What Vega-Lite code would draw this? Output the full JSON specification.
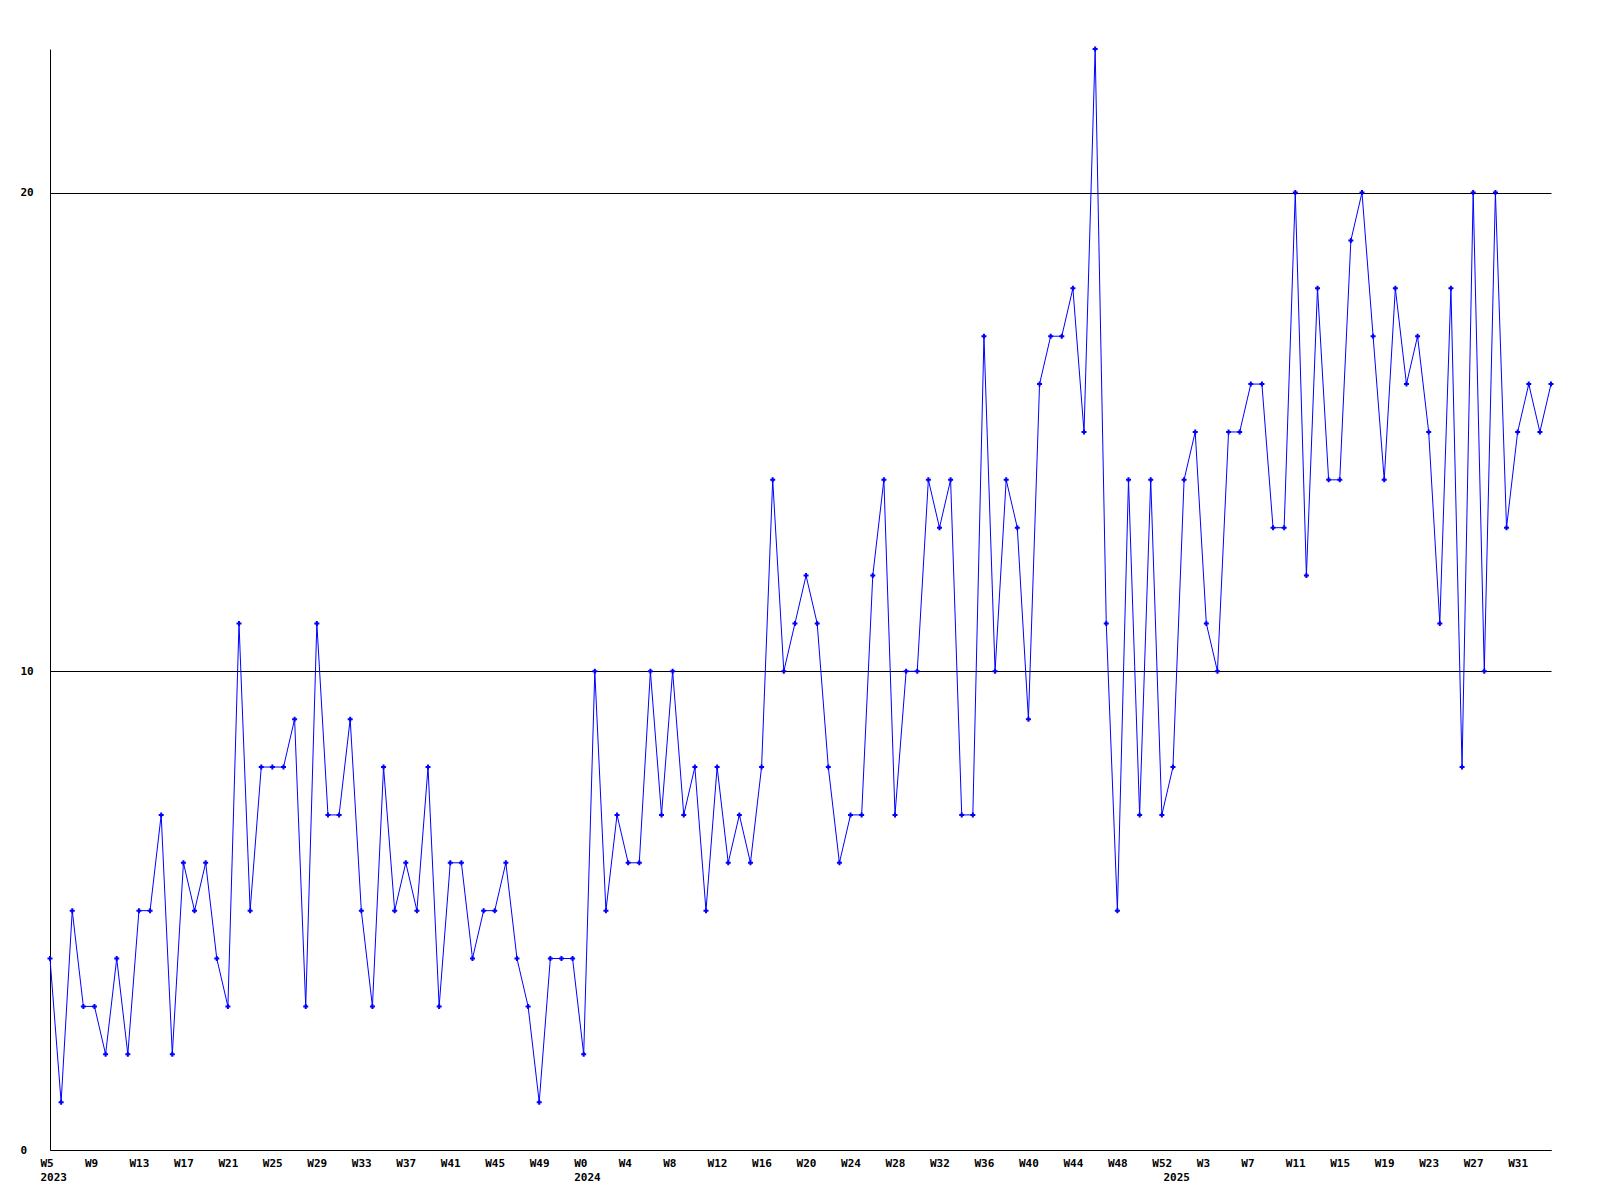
{
  "$schema": "https://vega.github.io/schema/vega-lite/v6.json",
  "width": 1501,
  "height": 1101,
  "autosize": {"type": "none"},
  "padding": {"left": 50, "top": 49, "right": 49, "bottom": 50},
  "background": "white",
  "config": {"view": {"stroke": null}, "font": "DejaVu Sans Mono"},
  "data": {"values": [
    {"i":0,"v":4},{"i":1,"v":1},{"i":2,"v":5},{"i":3,"v":3},{"i":4,"v":3},{"i":5,"v":2},{"i":6,"v":4},{"i":7,"v":2},{"i":8,"v":5},{"i":9,"v":5},
    {"i":10,"v":7},{"i":11,"v":2},{"i":12,"v":6},{"i":13,"v":5},{"i":14,"v":6},{"i":15,"v":4},{"i":16,"v":3},{"i":17,"v":11},{"i":18,"v":5},{"i":19,"v":8},
    {"i":20,"v":8},{"i":21,"v":8},{"i":22,"v":9},{"i":23,"v":3},{"i":24,"v":11},{"i":25,"v":7},{"i":26,"v":7},{"i":27,"v":9},{"i":28,"v":5},{"i":29,"v":3},
    {"i":30,"v":8},{"i":31,"v":5},{"i":32,"v":6},{"i":33,"v":5},{"i":34,"v":8},{"i":35,"v":3},{"i":36,"v":6},{"i":37,"v":6},{"i":38,"v":4},{"i":39,"v":5},
    {"i":40,"v":5},{"i":41,"v":6},{"i":42,"v":4},{"i":43,"v":3},{"i":44,"v":1},{"i":45,"v":4},{"i":46,"v":4},{"i":47,"v":4},{"i":48,"v":2},{"i":49,"v":10},
    {"i":50,"v":5},{"i":51,"v":7},{"i":52,"v":6},{"i":53,"v":6},{"i":54,"v":10},{"i":55,"v":7},{"i":56,"v":10},{"i":57,"v":7},{"i":58,"v":8},{"i":59,"v":5},
    {"i":60,"v":8},{"i":61,"v":6},{"i":62,"v":7},{"i":63,"v":6},{"i":64,"v":8},{"i":65,"v":14},{"i":66,"v":10},{"i":67,"v":11},{"i":68,"v":12},{"i":69,"v":11},
    {"i":70,"v":8},{"i":71,"v":6},{"i":72,"v":7},{"i":73,"v":7},{"i":74,"v":12},{"i":75,"v":14},{"i":76,"v":7},{"i":77,"v":10},{"i":78,"v":10},{"i":79,"v":14},
    {"i":80,"v":13},{"i":81,"v":14},{"i":82,"v":7},{"i":83,"v":7},{"i":84,"v":17},{"i":85,"v":10},{"i":86,"v":14},{"i":87,"v":13},{"i":88,"v":9},{"i":89,"v":16},
    {"i":90,"v":17},{"i":91,"v":17},{"i":92,"v":18},{"i":93,"v":15},{"i":94,"v":23},{"i":95,"v":11},{"i":96,"v":5},{"i":97,"v":14},{"i":98,"v":7},{"i":99,"v":14},
    {"i":100,"v":7},{"i":101,"v":8},{"i":102,"v":14},{"i":103,"v":15},{"i":104,"v":11},{"i":105,"v":10},{"i":106,"v":15},{"i":107,"v":15},{"i":108,"v":16},{"i":109,"v":16},
    {"i":110,"v":13},{"i":111,"v":13},{"i":112,"v":20},{"i":113,"v":12},{"i":114,"v":18},{"i":115,"v":14},{"i":116,"v":14},{"i":117,"v":19},{"i":118,"v":20},{"i":119,"v":17},
    {"i":120,"v":14},{"i":121,"v":18},{"i":122,"v":16},{"i":123,"v":17},{"i":124,"v":15},{"i":125,"v":11},{"i":126,"v":18},{"i":127,"v":8},{"i":128,"v":20},{"i":129,"v":10},
    {"i":130,"v":20},{"i":131,"v":13},{"i":132,"v":15},{"i":133,"v":16},{"i":134,"v":15},{"i":135,"v":16}
  ]},
  "mark": {
    "type": "line",
    "color": "#0000ff",
    "strokeWidth": 1,
    "clip": false,
    "point": {"shape": "cross", "size": 25, "filled": true, "color": "#0000ff", "strokeWidth": 0}
  },
  "encoding": {
    "x": {
      "field": "i",
      "type": "quantitative",
      "scale": {"domain": [0, 135], "nice": false, "zero": false},
      "axis": {
        "title": null,
        "values": [0,4,8,12,16,20,24,28,32,36,40,44,48,52,56,60,64,68,72,76,80,84,88,92,96,100,101,104,108,112,116,120,124,128,132],
        "labelExpr": "datum.value < 48 ? ['W' + (datum.value + 5), datum.value == 0 ? '2023' : ''] : (datum.value < 101 ? ['W' + (datum.value - 48), datum.value == 48 ? '2024' : ''] : (datum.value == 101 ? ['', '2025'] : ['W' + (datum.value - 101), '']))",
        "labelAlign": "left",
        "labelBaseline": "top",
        "labelOffset": -10,
        "labelPadding": 7,
        "labelLineHeight": 14,
        "labelFont": "DejaVu Sans Mono",
        "labelFontSize": 11,
        "labelFontWeight": "bold",
        "labelColor": "black",
        "labelOverlap": false,
        "labelBound": false,
        "labelFlush": false,
        "ticks": false,
        "grid": false,
        "domainColor": "black",
        "domainWidth": 1
      }
    },
    "y": {
      "field": "v",
      "type": "quantitative",
      "scale": {"domain": [0, 23], "nice": false, "zero": true},
      "axis": {
        "title": null,
        "values": [0, 10, 20],
        "labelAlign": "left",
        "labelBaseline": "middle",
        "labelPadding": 30,
        "labelFont": "DejaVu Sans Mono",
        "labelFontSize": 11,
        "labelFontWeight": "bold",
        "labelColor": "black",
        "labelFlush": false,
        "labelOverlap": false,
        "ticks": false,
        "grid": true,
        "gridColor": "black",
        "gridOpacity": 1,
        "gridWidth": 1,
        "domainColor": "black",
        "domainWidth": 1
      }
    }
  }
}
